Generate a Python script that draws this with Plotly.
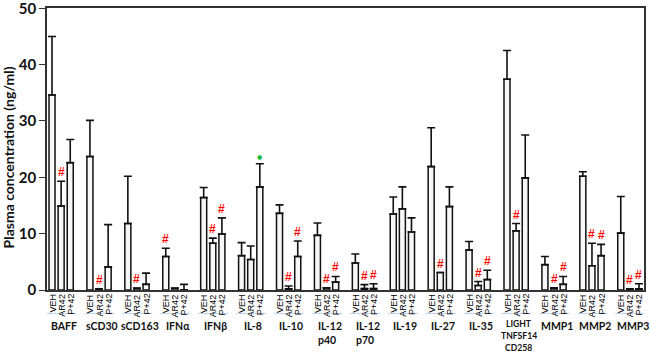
import plotly.graph_objects as go

groups = ["BAFF", "sCD30", "sCD163", "IFN\u03b1", "IFN\u03b2", "IL-8", "IL-10",
          "IL-12<br>p40", "IL-12<br>p70", "IL-19", "IL-27", "IL-35",
          "LIGHT<br>TNFSF14<br>CD258", "MMP1", "MMP2", "MMP3"]
treatments = ["VEH", "AR42", "P+42"]

veh_mean = [34.6, 23.7, 11.8, 5.95, 16.4, 6.1, 13.6, 9.7, 4.8, 13.5, 21.9, 7.1, 37.4, 4.5, 20.2, 10.1]
veh_top = [45.0, 30.1, 20.2, 7.4, 18.2, 8.4, 15.1, 11.9, 6.4, 16.5, 28.8, 8.6, 42.5, 5.95, 21.0, 16.6]
ar42_mean = [14.9, 0.1, 0.3, 0.3, 8.3, 5.4, 0.2, 0.35, 0.25, 14.4, 3.1, 0.8, 10.5, 0.3, 4.3, 0.1]
ar42_top = [19.3, 0.2, 0.35, 0.35, 9.2, 7.8, 0.7, 0.4, 0.95, 18.3, 3.1, 1.5, 11.8, 0.4, 8.3, 0.2]
p42_mean = [22.6, 4.1, 1.0, 0.05, 9.95, 18.3, 5.95, 1.4, 0.25, 10.3, 14.8, 1.85, 19.9, 1.0, 6.1, 0.2]
p42_top = [26.7, 11.6, 3.0, 1.0, 12.8, 22.4, 8.7, 2.4, 1.1, 12.8, 18.3, 3.5, 27.5, 2.4, 8.1, 1.1]

# significance marks: (group index, treatment index)
hash_marks = [(0, 1), (1, 1), (2, 1), (3, 0), (4, 1), (4, 2), (6, 1), (6, 2), (7, 1), (7, 2),
              (8, 1), (8, 2), (10, 1), (11, 1), (11, 2), (12, 1), (13, 1), (13, 2),
              (14, 1), (14, 2), (15, 1), (15, 2)]
dot_marks = [(5, 2)]

y_ticks = [0, 10, 20, 30, 40, 50]
y_title = "Plasma concentration (ng/ml)"

PERIOD = 4.16
means = [veh_mean, ar42_mean, p42_mean]
tops = [veh_top, ar42_top, p42_top]

def xpos(g, j):
    return g * PERIOD + j

FONT = "Lato"
PLOT_H = 284.0
fig = go.Figure()
for j, t in enumerate(treatments):
    xs = [xpos(g, j) for g in range(len(groups))]
    errs = [max(tp - m, 0) for tp, m in zip(tops[j], means[j])]
    fig.add_trace(go.Bar(
        x=xs, y=means[j], name=t, width=0.66,
        marker=dict(color="#f7f7f7", line=dict(color="#111111", width=1.5)),
        error_y=dict(type="data", array=errs, arrayminus=[0] * len(errs), symmetric=False,
                     color="#111111", thickness=1.6, width=4),
        showlegend=False,
    ))

ann = []
for g, gm in enumerate(groups):
    for j, t in enumerate(treatments):
        ann.append(dict(x=xpos(g, j), y=0, xref="x", yref="paper", text=t,
                        textangle=-90, showarrow=False, xanchor="center", yanchor="top",
                        yshift=-2, font=dict(family="Liberation Sans", size=9, color="#000")))
    lines = gm.split("<br>")
    if len(lines) > 2:
        fsize, lh, y0 = 8.6, 12.0, 324.5
    else:
        fsize, lh, y0 = 10.5, 14.6, 326.5
    left = gm.startswith("IL-12")
    center = (xpos(g, 0) + xpos(g, 2)) / 2 + 0.3
    for k, line in enumerate(lines):
        ann.append(dict(x=(xpos(g, 0) - 0.15) if left else center,
                        y=(290.5 - y0) / PLOT_H, xref="x", yref="paper", text=line,
                        showarrow=False, xanchor="left" if left else "center", yanchor="middle",
                        yshift=-k * lh,
                        font=dict(family=FONT, size=fsize, color="#111", weight="bold")))

for g, j in hash_marks:
    ann.append(dict(x=xpos(g, j), y=tops[j][g], xref="x", yref="y", text="<b>#</b>",
                    showarrow=False, xanchor="center", yanchor="bottom", yshift=0,
                    font=dict(family="Liberation Sans", size=12, color="#ff0000")))
for g, j in dot_marks:
    ann.append(dict(x=xpos(g, j), y=tops[j][g], xref="x", yref="y", text="\u25cf",
                    showarrow=False, xanchor="center", yanchor="bottom", yshift=2,
                    font=dict(family="DejaVu Sans", size=6, color="#22bb44")))

ann.append(dict(x=0, xref="paper", xshift=-39, y=(290.5 - 157) / PLOT_H, yref="paper",
                text=y_title, textangle=-90, showarrow=False, xanchor="center", yanchor="middle",
                font=dict(family=FONT, size=14, color="#111", weight="bold")))

shapes = []
for g in range(len(groups)):
    shapes.append(dict(type="line", xref="x", yref="paper",
                       x0=xpos(g, 0) - 0.6, x1=xpos(g, 2) + 0.7, y0=-0.083, y1=-0.083,
                       line=dict(color="#b8d0ea", width=1)))

fig.update_layout(
    width=650, height=355,
    margin=dict(l=47, r=6, t=6, b=65),
    paper_bgcolor="white", plot_bgcolor="white",
    barmode="overlay",
    annotations=ann, shapes=shapes,
    xaxis=dict(range=[-0.55, xpos(len(groups) - 1, 2) + 0.55], showticklabels=False,
               showgrid=False, zeroline=False, showline=True, linecolor="#333",
               linewidth=1.5, mirror=True, ticks=""),
    yaxis=dict(range=[0, 50.05], tickvals=y_ticks, ticktext=["<b>%d</b>" % v for v in y_ticks],
               tickfont=dict(family=FONT, size=15, color="#111"), showgrid=False,
               zeroline=False, showline=True, linecolor="#333", linewidth=1.5, mirror=True,
               ticks="outside", ticklen=6, tickcolor="#333", tickwidth=1.2, automargin=False,
               ticklabeloverflow="allow"),
)

fig.write_html("out.html", config={"displayModeBar": False},
               post_script="document.body.style.margin='0';document.body.style.overflow='hidden';")
